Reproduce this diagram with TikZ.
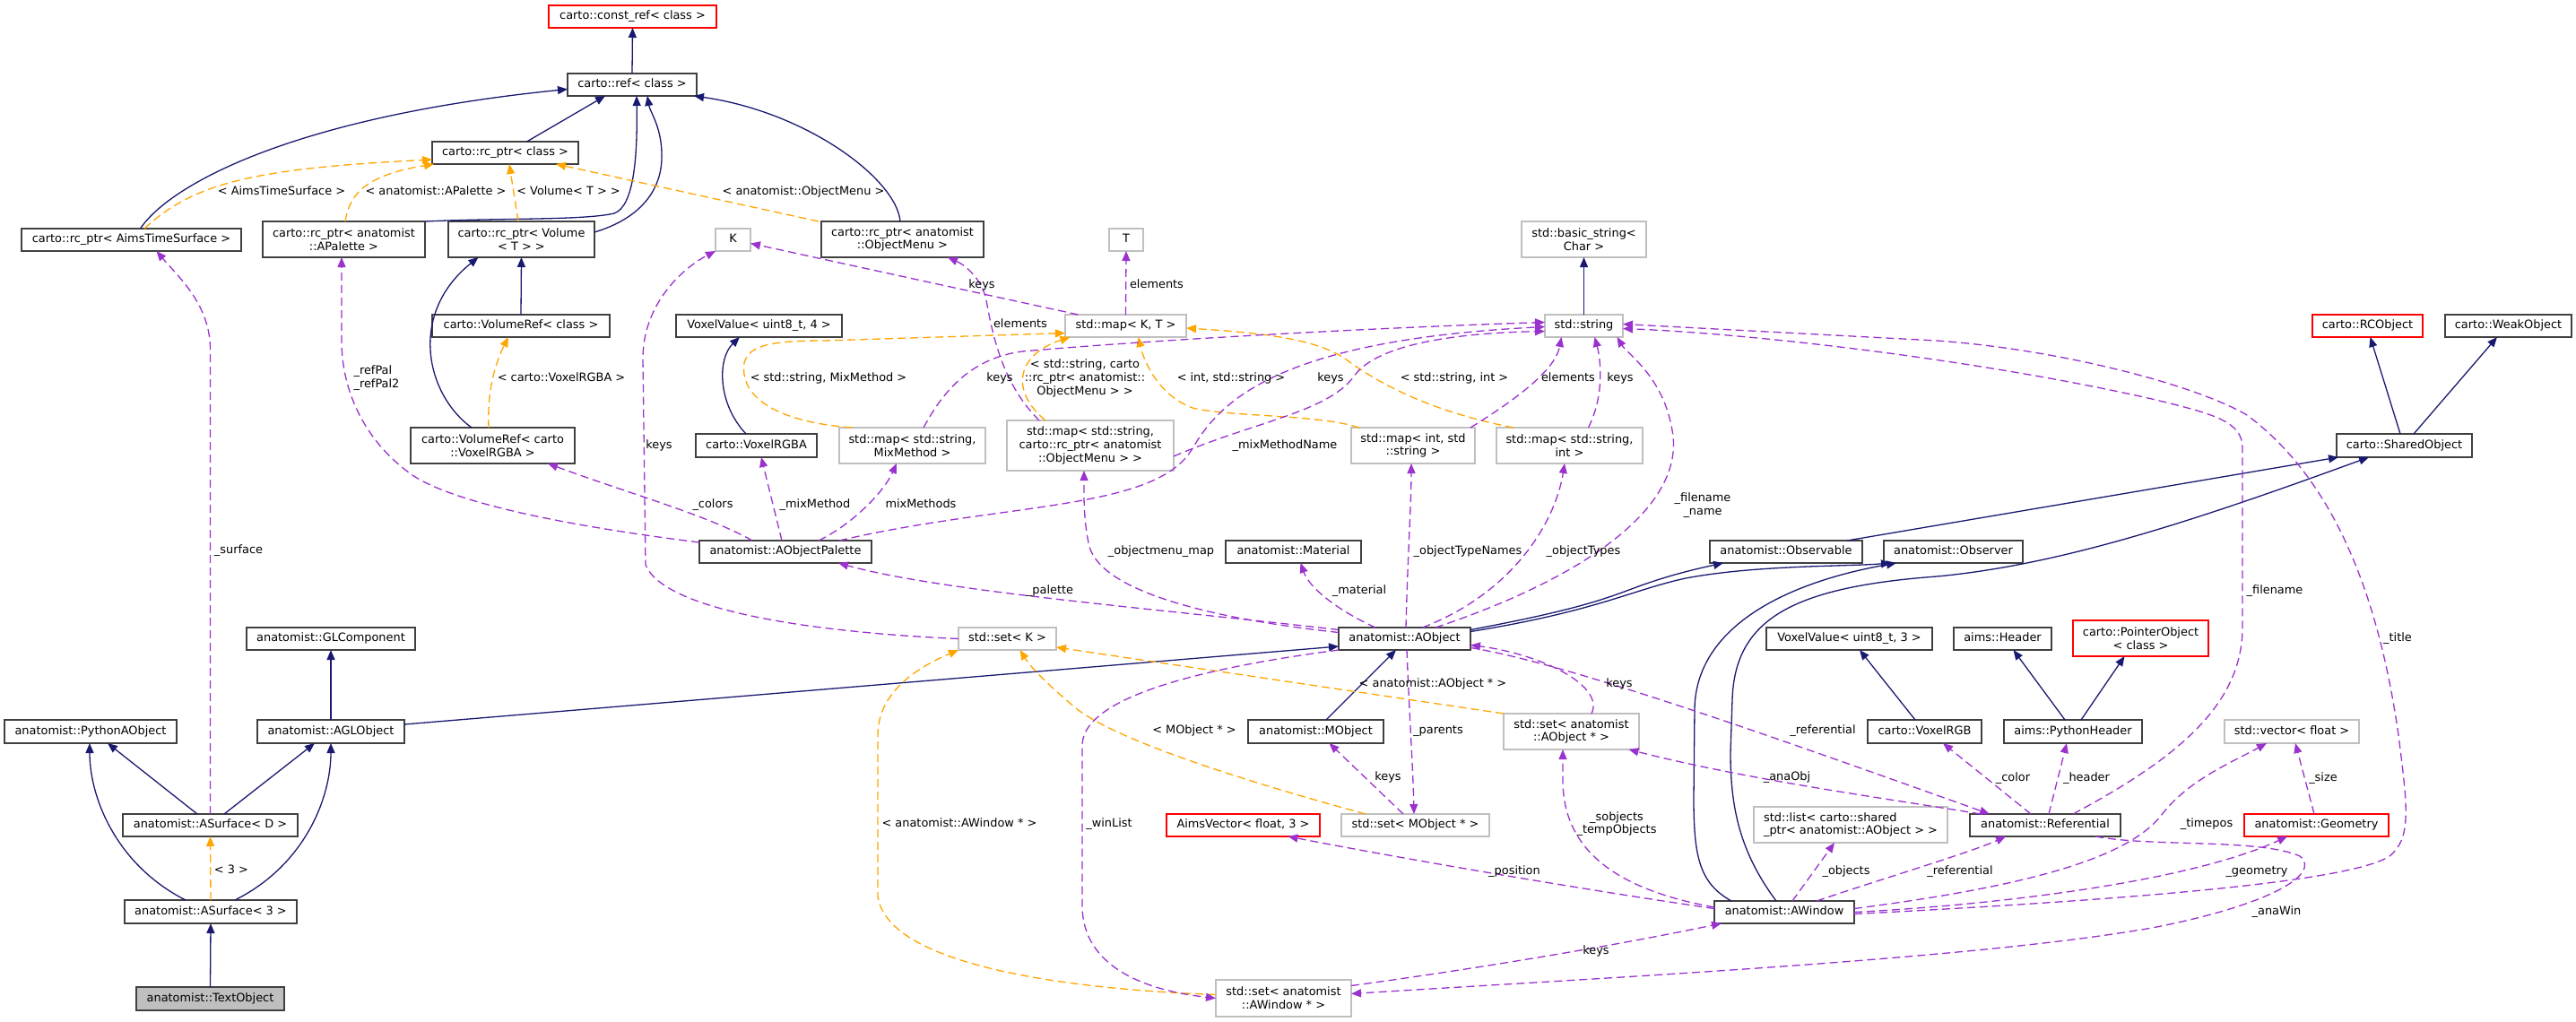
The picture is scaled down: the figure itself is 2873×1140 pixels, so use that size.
\documentclass[tikz,border=0pt]{standalone}
\usepackage{fontspec}
\setmainfont{DejaVu Sans}
\usetikzlibrary{arrows.meta}
\definecolor{inhblue}{HTML}{191970}
\definecolor{usepurple}{HTML}{9A32CD}
\definecolor{tplorange}{HTML}{FFA500}
\definecolor{boxdark}{HTML}{404040}
\definecolor{boxgray}{HTML}{BFBFBF}
\definecolor{boxred}{HTML}{FF0000}
\definecolor{fillgray}{HTML}{BFBFBF}
\begin{document}
\begin{tikzpicture}[x=1pt,y=-1pt,
  every node/.style={font=\fontsize{12.9}{14.7}\selectfont, inner sep=0pt, outer sep=0pt, text height=9.6pt, text depth=3.1pt},
  ml/.style={text height=, text depth=},
  sz/.style 2 args={minimum width=#1pt, minimum height=#2pt},
  cls/.style={draw=boxdark, line width=1.3pt, fill=white, align=center},
  ext/.style={draw=boxgray, line width=1.3pt, fill=white, align=center},
  trunc/.style={draw=boxred, line width=1.3pt, fill=white, align=center},
  focus/.style={draw=boxdark, line width=1.3pt, fill=fillgray, align=center},
  inhedge/.style={draw=inhblue, line width=1.3pt, -{Triangle[length=11pt,width=9pt]}},
  useedge/.style={draw=usepurple, line width=1.3pt, dash pattern=on 9pt off 5pt, -{Triangle[length=11pt,width=9pt]}},
  tpledge/.style={draw=tplorange, line width=1.3pt, dash pattern=on 9pt off 5pt, -{Triangle[length=11pt,width=9pt]}},
  lbl/.style={align=center, text=black},
]
\useasboundingbox (0,0) rectangle (2873,1140);

% ---------------- nodes ----------------
\node[trunc, sz={187}{25}] (constref) at (705.5,18.5) {carto::const\_ref< class >};
\node[cls, sz={144}{25}] (ref) at (705,94.5) {carto::ref< class >};
\node[cls, sz={163}{25}] (rcclass) at (563.5,170.5) {carto::rc\_ptr< class >};
\node[cls, sz={245}{25}] (rcats) at (146.5,267.5) {carto::rc\_ptr< AimsTimeSurface >};
\node[cls, ml, sz={181}{40}] (rcpal) at (383.5,267) {carto::rc\_ptr< anatomist\\::APalette >};
\node[cls, ml, sz={163}{40}] (rcvol) at (581.5,267) {carto::rc\_ptr< Volume\\< T > >};
\node[cls, ml, sz={181}{40}] (rcmenu) at (1006.5,267) {carto::rc\_ptr< anatomist\\::ObjectMenu >};
\node[ext, sz={39}{25}] (K) at (817.5,267.5) {K};
\node[ext, sz={38}{25}] (T) at (1256,267.5) {T};
\node[cls, sz={198}{25}] (volref) at (581,363.5) {carto::VolumeRef< class >};
\node[cls, sz={185}{25}] (vv4) at (846.5,363.5) {VoxelValue< uint8\_t, 4 >};
\node[ext, sz={135}{25}] (mapKT) at (1255.5,363.5) {std::map< K, T >};
\node[ext, ml, sz={139}{40}] (bstring) at (1766.5,267) {std::basic\_string<\\Char >};
\node[ext, sz={87}{25}] (string) at (1766.5,363.5) {std::string};
\node[trunc, sz={123}{25}] (rcobj) at (2640.5,363.5) {carto::RCObject};
\node[cls, sz={141}{25}] (weak) at (2797.5,363.5) {carto::WeakObject};
\node[cls, ml, sz={183}{40}] (volrgba) at (549.5,497) {carto::VolumeRef< carto\\::VoxelRGBA >};
\node[cls, sz={135}{26}] (voxrgba) at (843.5,497) {carto::VoxelRGBA};
\node[ext, ml, sz={163}{40}] (mapmix) at (1017.5,497) {std::map< std::string,\\MixMethod >};
\node[ext, ml, sz={186}{56}] (mapmenu) at (1216,497) {std::map< std::string,\\carto::rc\_ptr< anatomist\\::ObjectMenu > >};
\node[ext, ml, sz={138}{40}] (mapint) at (1576,497) {std::map< int, std\\::string >};
\node[ext, ml, sz={163}{40}] (mapsi) at (1750.5,497) {std::map< std::string,\\int >};
\node[cls, sz={151}{26}] (shared) at (2681.5,497) {carto::SharedObject};
\node[cls, sz={192}{25}] (palette) at (876,615.5) {anatomist::AObjectPalette};
\node[cls, sz={151}{25}] (material) at (1442.5,615.5) {anatomist::Material};
\node[cls, sz={170}{25}] (observable) at (1992,615.5) {anatomist::Observable};
\node[cls, sz={155}{25}] (observer) at (2178.5,615.5) {anatomist::Observer};
\node[cls, sz={188}{25}] (glcomp) at (369,712.5) {anatomist::GLComponent};
\node[ext, sz={109}{25}] (setK) at (1123.5,712.5) {std::set< K >};
\node[cls, sz={147}{25}] (aobject) at (1566.5,712.5) {anatomist::AObject};
\node[cls, sz={185}{25}] (vv3) at (2062.5,712.5) {VoxelValue< uint8\_t, 3 >};
\node[cls, sz={109}{25}] (header) at (2233.5,712.5) {aims::Header};
\node[trunc, ml, sz={151}{40}] (pointer) at (2387.5,712) {carto::PointerObject\\< class >};
\node[cls, sz={192}{26}] (pyaobj) at (101,816) {anatomist::PythonAObject};
\node[cls, sz={164}{26}] (aglobj) at (369,816) {anatomist::AGLObject};
\node[cls, sz={151}{26}] (mobject) at (1467.5,816) {anatomist::MObject};
\node[ext, ml, sz={151}{40}] (setaobj) at (1752.5,816) {std::set< anatomist\\::AObject * >};
\node[cls, sz={127}{26}] (voxrgb) at (2146.5,816) {carto::VoxelRGB};
\node[cls, sz={154}{26}] (pyheader) at (2312,816) {aims::PythonHeader};
\node[ext, sz={150}{26}] (vecfloat) at (2556,816) {std::vector< float >};
\node[cls, sz={195}{25}] (asurfD) at (234.5,920.5) {anatomist::ASurface< D >};
\node[trunc, sz={171}{25}] (aimsvec) at (1386.5,920.5) {AimsVector< float, 3 >};
\node[ext, sz={165}{25}] (setmobj) at (1578.5,920.5) {std::set< MObject * >};
\node[ext, ml, sz={216}{40}, align=left] (stdlist) at (2064,920) {std::list< carto::shared\\\_ptr< anatomist::AObject > >};
\node[cls, sz={168}{25}] (referential) at (2281,920.5) {anatomist::Referential};
\node[trunc, sz={161}{25}] (geometry) at (2583.5,920.5) {anatomist::Geometry};
\node[cls, sz={192}{26}] (asurf3) at (235,1017) {anatomist::ASurface< 3 >};
\node[cls, sz={156}{25}] (awindow) at (1990,1017.5) {anatomist::AWindow};
\node[ext, ml, sz={151}{41}] (setawin) at (1431.5,1113.5) {std::set< anatomist\\::AWindow * >};
\node[focus, sz={165}{26}] (textobj) at (234.5,1114) {anatomist::TextObject};

% ---------------- inheritance ----------------
\draw[inhedge] (ref.north) -- (constref.south);
\draw[inhedge] ([xshift=24pt]rcclass.north) -- ([xshift=-30pt]ref.south);
\draw[inhedge] ([xshift=10pt]rcats.north) .. controls (190,205) and (330,130) .. ([yshift=-5pt]ref.west);
\draw[inhedge] (rcpal.north east) .. controls (560,243) and (650,246) .. (685,238) .. controls (708,230) and (711,170) .. ([xshift=5pt]ref.south);
\draw[inhedge] ([yshift=8pt]rcvol.east) .. controls (710,245) and (740,215) .. (738,170) .. controls (737,140) and (725,125) .. ([xshift=17pt]ref.south);
\draw[inhedge] ([xshift=-2.5pt]rcmenu.north) .. controls (1000,200) and (900,125) .. ([xshift=-3pt]ref.south east);
\draw[inhedge] (volref.north) -- (rcvol.south);
\draw[inhedge] ([xshift=-23.5pt]volrgba.north) .. controls (475,440) and (455,350) .. ([xshift=-48pt]rcvol.south);
\draw[inhedge] (string.north) -- (bstring.south);
\draw[inhedge] ([xshift=-4.5pt]shared.north) -- ([xshift=3pt]rcobj.south);
\draw[inhedge] ([xshift=10.5pt]shared.north) -- ([xshift=-12.5pt]weak.south);
\draw[inhedge] ([xshift=-11.5pt]voxrgba.north) .. controls (800,450) and (800,400) .. ([xshift=-21.5pt]vv4.south);
\draw[inhedge] ([yshift=10pt]aobject.east) .. controls (1760,680) and (1790,668) .. (1825,655) .. controls (1860,642) and (1890,635) .. ([xshift=15pt]observable.south west);
\draw[inhedge] ([yshift=8pt]aobject.east) .. controls (1780,682) and (1820,658) .. (1880,645) .. controls (1960,630) and (2060,632) .. ([xshift=8pt]observer.south west);
\draw[inhedge] ([xshift=68pt]observable.north) -- ([xshift=2pt]shared.south west);
\draw[inhedge] ([xshift=-59pt]awindow.north) .. controls (1895,985) and (1889,955) .. (1889,890) -- (1890,790) .. controls (1892,700) and (1990,650) .. ([xshift=14pt]observer.south west);
\draw[inhedge] ([xshift=-9pt]awindow.north) .. controls (1940,950) and (1930,900) .. (1930,840) -- (1932,780) .. controls (1935,690) and (2000,655) .. (2160,643) .. controls (2300,630) and (2450,580) .. ([xshift=-39.5pt]shared.south);
\draw[inhedge] ([yshift=8pt]aglobj.east) -- ([yshift=-8.5pt]aobject.west);
\draw[inhedge] ([xshift=11.5pt]mobject.north) -- ([xshift=-9.5pt]aobject.south);
\draw[inhedge] (aglobj.north) -- (glcomp.south);
\draw[inhedge] ([xshift=-14.5pt]asurfD.north) -- ([xshift=19pt]pyaobj.south);
\draw[inhedge] ([xshift=15.5pt]asurfD.north) -- ([xshift=-18pt]aglobj.south);
\draw[inhedge] ([xshift=-28pt]asurf3.north) .. controls (130,965) and (100,890) .. ([xshift=-1pt]pyaobj.south);
\draw[inhedge] ([xshift=27pt]asurf3.north) .. controls (340,965) and (369,890) .. (aglobj.south);
\draw[inhedge] (textobj.north) -- (asurf3.south);
\draw[inhedge] ([xshift=-10.5pt]voxrgb.north) -- ([xshift=11.5pt]vv3.south);
\draw[inhedge] ([xshift=-9pt]pyheader.north) -- ([xshift=12pt]header.south);
\draw[inhedge] ([xshift=9pt]pyheader.north) -- ([xshift=-18pt]pointer.south);

% ---------------- template instances ----------------
\draw[tpledge] (asurf3.north) -- (asurfD.south);
\draw[tpledge] ([xshift=14.5pt]rcats.north) .. controls (215,205) and (280,188) .. ([yshift=-7.5pt]rcclass.west);
\draw[tpledge] ([xshift=1.5pt]rcpal.north) .. controls (390,215) and (410,195) .. ([xshift=2pt]rcclass.south west);
\draw[tpledge] ([xshift=-3.5pt]rcvol.north) -- ([xshift=4.5pt]rcclass.south);
\draw[tpledge] ([xshift=-3pt]rcmenu.north west) -- ([xshift=56.5pt]rcclass.south);
\draw[tpledge] ([xshift=-4.5pt]volrgba.north) .. controls (543,430) and (555,400) .. ([xshift=-14pt]volref.south);
\draw[tpledge] ([xshift=-67.5pt]mapmix.north) .. controls (860,470) and (825,440) .. (830,405) .. controls (835,385) and (860,380) .. (920,380) -- ([yshift=-8pt]mapKT.west);
\draw[tpledge] ([xshift=-50pt]mapmenu.north) .. controls (1125,435) and (1135,395) .. ([xshift=-62pt]mapKT.south);
\draw[tpledge] ([xshift=-60pt]mapint.north) .. controls (1470,462) and (1370,465) .. (1330,455) .. controls (1290,440) and (1275,400) .. ([xshift=14pt]mapKT.south);
\draw[tpledge] ([xshift=-62.5pt]mapsi.north) .. controls (1600,460) and (1540,430) .. (1500,400) .. controls (1470,380) and (1420,372) .. ([yshift=-2.5pt]mapKT.east);
\draw[tpledge] ([xshift=-55.5pt]setmobj.north) .. controls (1420,880) and (1250,830) .. (1200,790) .. controls (1170,765) and (1150,745) .. ([xshift=14pt]setK.south);
\draw[tpledge] (setaobj.north west) -- ([yshift=-9.5pt]setK.east);
\draw[tpledge] ([yshift=4pt]setawin.west) .. controls (1180,1103) and (990,1075) .. (979,1000) -- (979,820) .. controls (979,780) and (1010,750) .. (setK.south west);

% ---------------- usage ----------------
\draw[useedge] (asurfD.north) -- (234.5,390) .. controls (234.5,340) and (200,310) .. ([xshift=28pt]rcats.south);
\draw[useedge] ([yshift=-2pt]palette.north west) .. controls (700,595) and (520,570) .. (460,530) .. controls (410,495) and (381,440) .. (381,380) -- ([xshift=-2.5pt]rcpal.south);
\draw[useedge] ([xshift=-37pt]palette.north) .. controls (790,575) and (700,550) .. ([xshift=61.5pt]volrgba.south);
\draw[useedge] ([xshift=-4pt]palette.north) -- ([xshift=5.5pt]voxrgba.south);
\draw[useedge] ([xshift=37pt]palette.north) .. controls (950,585) and (985,550) .. ([xshift=-17.5pt]mapmix.south);
\draw[useedge] ([xshift=60pt]palette.north) .. controls (1120,560) and (1290,570) .. (1330,500) .. controls (1360,450) and (1420,380) .. ([yshift=-1pt]string.west);
\draw[useedge] ([xshift=12.5pt]mapmix.north) .. controls (1050,440) and (1080,400) .. (1140,392) .. controls (1300,378) and (1550,365) .. ([yshift=4pt]string.west);
\draw[useedge] ([yshift=-12pt]mapmenu.east) .. controls (1400,470) and (1480,460) .. (1510,420) .. controls (1530,390) and (1600,372) .. ([yshift=-6pt]string.west);
\draw[useedge] (setK.west) .. controls (900,705) and (740,680) .. (720,630) -- (717,400) .. controls (717,340) and (760,300) .. (K.south west);
\draw[useedge] ([xshift=-53pt]mapKT.north) -- ([yshift=-4pt]K.east);
\draw[useedge] (mapKT.north) -- (T.south);
\draw[useedge] ([xshift=-57pt]mapmenu.north) .. controls (1120,430) and (1108,380) .. (1100,335) .. controls (1095,310) and (1075,295) .. ([xshift=50.5pt]rcmenu.south);
\draw[useedge] ([xshift=64pt]mapint.north) .. controls (1700,440) and (1735,410) .. ([xshift=-25pt]string.south);
\draw[useedge] ([xshift=21pt]mapsi.north) .. controls (1790,440) and (1785,400) .. ([xshift=12pt]string.south);
\draw[useedge] ([xshift=34.5pt]aobject.north) .. controls (1780,640) and (1880,560) .. (1865,480) .. controls (1855,420) and (1815,395) .. ([xshift=37pt]string.south);
\draw[useedge] ([xshift=31pt]referential.north) .. controls (2420,850) and (2501,790) .. (2501,700) -- (2501,500) .. controls (2501,470) and (2470,462) .. (2400,445) .. controls (2200,400) and (1950,372) .. ([yshift=-3pt]string.east);
\draw[useedge] ([yshift=-2pt]awindow.east) .. controls (2350,1005) and (2620,985) .. (2665,955) .. controls (2690,935) and (2685,900) .. (2675,820) .. controls (2655,680) and (2610,540) .. (2506,463) .. controls (2450,430) and (2300,390) .. (2160,380) -- ([yshift=2pt]string.east);
\draw[useedge] ([yshift=10pt]aobject.west) .. controls (1300,680) and (1050,660) .. ([xshift=59pt]palette.south);
\draw[useedge] ([yshift=7pt]aobject.west) .. controls (1350,690) and (1230,660) .. (1215,610) .. controls (1208,580) and (1209,550) .. ([xshift=-7pt]mapmenu.south);
\draw[useedge] ([xshift=-32.5pt]aobject.north) .. controls (1490,680) and (1460,655) .. ([xshift=8pt]material.south);
\draw[useedge] ([xshift=1.5pt]aobject.north) .. controls (1570,620) and (1574,560) .. ([xshift=-2pt]mapint.south);
\draw[useedge] ([xshift=20pt]aobject.north) .. controls (1690,660) and (1735,580) .. ([xshift=-5.5pt]mapsi.south);
\draw[useedge] ([xshift=2.5pt]aobject.south) .. controls (1572,800) and (1576,860) .. ([xshift=-1.5pt]setmobj.north);
\draw[useedge] ([xshift=22.5pt]setaobj.north) .. controls (1790,765) and (1720,730) .. ([yshift=-7pt]aobject.east);
\draw[useedge] ([yshift=-10pt]aobject.east) .. controls (1750,740) and (2000,830) .. ([xshift=-62pt]referential.north);
\draw[useedge] ([xshift=-72pt]referential.north) .. controls (2100,890) and (1950,870) .. ([xshift=64pt]setaobj.south);
\draw[useedge] ([yshift=-7pt]awindow.north west) .. controls (1790,990) and (1743,940) .. (1743,870) -- ([xshift=-9.5pt]setaobj.south);
\draw[useedge] ([yshift=4pt]awindow.west) .. controls (1750,990) and (1550,955) .. ([xshift=50pt]aimsvec.south);
\draw[useedge] ([xshift=9pt]awindow.north) -- ([xshift=-18pt]stdlist.south);
\draw[useedge] ([xshift=36pt]awindow.north) .. controls (2100,980) and (2200,950) .. ([xshift=-44pt]referential.south);
\draw[useedge] ([yshift=4pt]awindow.east) .. controls (2250,990) and (2370,960) .. (2410,910) .. controls (2440,870) and (2490,850) .. ([xshift=-28pt]vecfloat.south);
\draw[useedge] (awindow.east) .. controls (2250,1008) and (2450,980) .. ([xshift=-32.5pt]geometry.south);
\draw[useedge] ([xshift=-2.5pt]geometry.north) -- ([xshift=4pt]vecfloat.south);
\draw[useedge] ([xshift=-16pt]referential.north) -- ([xshift=20.5pt]voxrgb.south);
\draw[useedge] ([xshift=4pt]referential.north) -- ([xshift=-7pt]pyheader.south);
\draw[useedge] ([xshift=56pt]referential.south) .. controls (2400,945) and (2520,935) .. (2565,955) .. controls (2590,975) and (2530,1010) .. (2400,1035) .. controls (2200,1070) and (1800,1090) .. ([yshift=5pt]setawin.east);
\draw[useedge] ([xshift=-13.5pt]setmobj.north) -- ([xshift=15pt]mobject.south);
\draw[useedge] ([yshift=14pt]setawin.east) .. controls (1650,1080) and (1800,1055) .. ([xshift=-70pt]awindow.south);
\draw[useedge] (aobject.south west) .. controls (1380,740) and (1210,770) .. (1207,830) -- (1207,1010) .. controls (1207,1080) and (1280,1105) .. (setawin.west);

% ---------------- labels ----------------
\node[lbl] (t1) at (314,214) {< AimsTimeSurface >};
\node[lbl] (t2) at (486,214) {< anatomist::APalette >};
\node[lbl] (t3) at (634,214) {< Volume< T > >};
\node[lbl] (t4) at (896,214) {< anatomist::ObjectMenu >};
\node[lbl] (t5) at (1095,318) {keys};
\node[lbl] (t6) at (1138,362) {elements};
\node[lbl] (t7) at (1290,318) {elements};
\node[lbl, ml, align=left] (t8) at (420,421.5) {\_refPal\\\_refPal2};
\node[lbl] (t9) at (626,422) {< carto::VoxelRGBA >};
\node[lbl] (t10) at (266,614) {\_surface};
\node[lbl] (t11) at (735,497) {keys};
\node[lbl] (t12) at (924,422) {< std::string, MixMethod >};
\node[lbl] (t13) at (1115,422) {keys};
\node[lbl, ml] (t14) at (1210,422) {< std::string, carto\\::rc\_ptr< anatomist::\\ObjectMenu > >};
\node[lbl] (t15) at (1373,422) {< int, std::string >};
\node[lbl] (t16) at (1433,497) {\_mixMethodName};
\node[lbl] (t17) at (795,563) {\_colors};
\node[lbl] (t18) at (909,563) {\_mixMethod};
\node[lbl] (t19) at (1027,563) {mixMethods};
\node[lbl] (t20) at (1295,615) {\_objectmenu\_map};
\node[lbl] (t21) at (1171,659) {\_palette};
\node[lbl] (t22) at (1484,422) {keys};
\node[lbl] (t23) at (1622,422) {< std::string, int >};
\node[lbl] (t24) at (1749,422) {elements};
\node[lbl] (t25) at (1807,422) {keys};
\node[lbl, ml] (t26) at (1899,563.5) {\_filename\\\_name};
\node[lbl] (t27) at (1637,615) {\_objectTypeNames};
\node[lbl] (t28) at (1766,615) {\_objectTypes};
\node[lbl] (t29) at (1516,659) {\_material};
\node[lbl] (t30) at (2537,659) {\_filename};
\node[lbl] (t31) at (2674,712) {\_title};
\node[lbl] (t32) at (258,971) {< 3 >};
\node[lbl] (t33) at (1332,815) {< MObject * >};
\node[lbl] (t34) at (1070,919) {< anatomist::AWindow * >};
\node[lbl] (t35) at (1237,919) {\_winList};
\node[lbl] (t36) at (1598,763) {< anatomist::AObject * >};
\node[lbl] (t37) at (1806,763) {keys};
\node[lbl] (t38) at (1604,815) {\_parents};
\node[lbl] (t39) at (2033,815) {\_referential};
\node[lbl] (t40) at (1548,867) {keys};
\node[lbl] (t41) at (1993,867) {\_anaObj};
\node[lbl, ml] (t42) at (1803,919) {\_sobjects\\\_tempObjects};
\node[lbl] (t43) at (1689,972) {\_position};
\node[lbl] (t44) at (2059,972) {\_objects};
\node[lbl] (t45) at (1780,1061) {keys};
\node[lbl] (t46) at (2186,972) {\_referential};
\node[lbl] (t47) at (2245,868) {\_color};
\node[lbl] (t48) at (2327,868) {\_header};
\node[lbl] (t49) at (2591,868) {\_size};
\node[lbl] (t50) at (2461,919) {\_timepos};
\node[lbl] (t51) at (2517,972) {\_geometry};
\node[lbl] (t52) at (2539,1017) {\_anaWin};
\end{tikzpicture}
\end{document}
